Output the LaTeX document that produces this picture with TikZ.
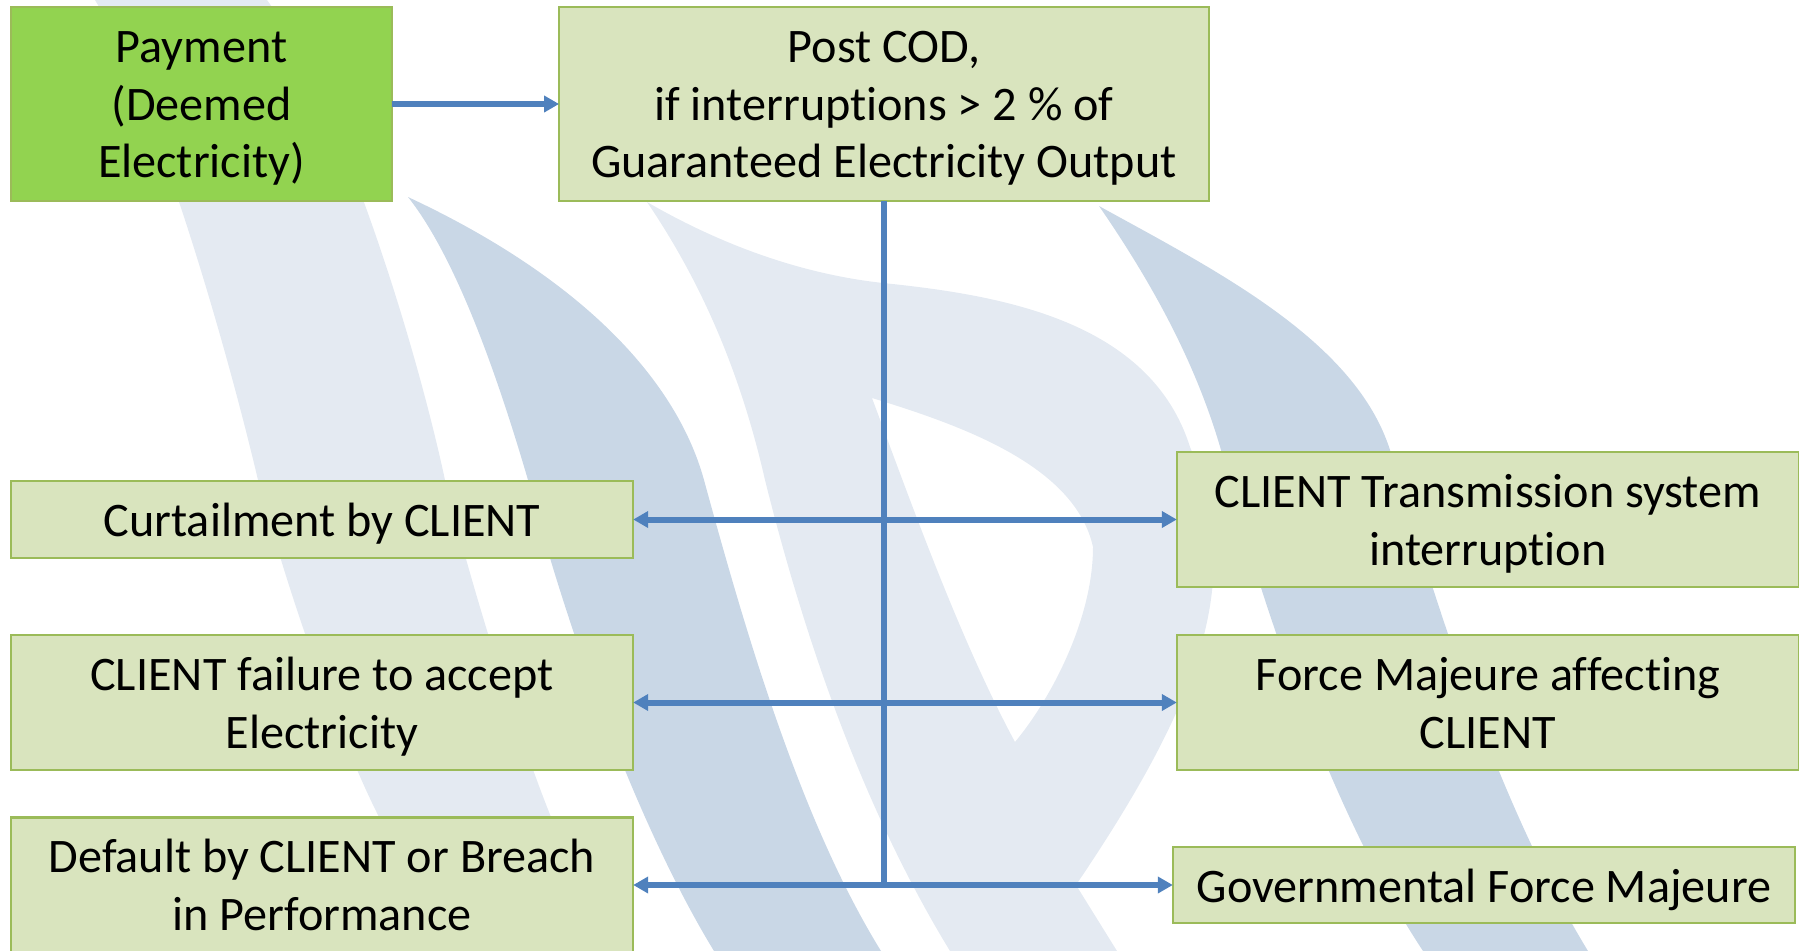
\documentclass[tikz,border=0pt]{standalone}
\usepackage{fontspec}
\setmainfont{Carlito}[Ligatures=CommonOff]
\usepackage{tikz}
\usetikzlibrary{arrows.meta}
\usetikzlibrary{positioning}
\definecolor{wmlight}{HTML}{E4EAF2}
\definecolor{wmdark}{HTML}{C9D7E6}
\definecolor{boxfill}{HTML}{D9E4BE}
\definecolor{boxline}{HTML}{9BBB59}
\definecolor{payfill}{HTML}{92D350}
\definecolor{linkblue}{HTML}{4F81BD}

\begin{document}
\begin{tikzpicture}[x=0.01cm,y=-0.01cm]
\tikzset{
    box/.style={
              rectangle,
                   draw=boxline,
                   fill=boxfill,
                   line width=0.025cm,
                   inner sep=0pt,
                   outer sep=0pt,
                   align=center,
                   font=\fontsize{13.7}{16.45}\selectfont,
                   execute at begin node={\rule{0pt}{#1}},
                   execute at end node={\rule[-3.9pt]{0pt}{3.9pt}}
    },
    trunk/.style={draw=linkblue,line width=0.06cm},
    link/.style={trunk,-{Triangle[length=0.15cm,width=0.16cm]}},
    both/.style={trunk,{Triangle[length=0.15cm,width=0.16cm]}-{Triangle[length=0.15cm,width=0.16cm]}}
}
    \useasboundingbox (0,0) rectangle (1799,951);

    % watermark behind the boxes
    \fill[wmlight] (95,0) .. controls (155,100) and (225,340) .. (258,480)
        .. controls (290,600) and (340,740) .. (379,817)
        .. controls (400,870) and (420,910) .. (445,951)
        -- (625,951) .. controls (600,915) and (570,865) .. (551,817)
        .. controls (520,740) and (475,600) .. (445,480)
        .. controls (415,340) and (340,100) .. (267,0) -- cycle;
    \fill[wmdark] (408,197) .. controls (450,250) and (490,350) .. (528,480)
        .. controls (570,640) and (640,830) .. (714,951)
        -- (881,951) .. controls (800,820) and (745,630) .. (704,480)
        .. controls (675,375) and (575,275) .. (408,197) -- cycle;
    \fill[wmdark] (1099,206) .. controls (1150,280) and (1195,360) .. (1221,450)
        .. controls (1260,600) and (1330,810) .. (1423,951)
        -- (1588,951) .. controls (1490,790) and (1430,580) .. (1390,450)
        .. controls (1355,340) and (1215,270) .. (1099,206) -- cycle;
    \fill[wmlight,even odd rule] (647,202) .. controls (730,250) and (810,275) .. (883,283)
        .. controls (1000,295) and (1150,320) .. (1190,447)
        .. controls (1240,570) and (1215,680) .. (1076,885)
        -- (1117,951) -- (950,951)
        .. controls (870,820) and (810,660) .. (765,480)
        .. controls (740,370) and (700,280) .. (647,202) -- cycle
        (872,398) .. controls (960,425) and (1075,465) .. (1093,547)
        .. controls (1093,620) and (1050,700) .. (1015,742)
        .. controls (960,640) and (910,500) .. (872,398) -- cycle;

    \node (pay)[box=45.9pt,fill=payfill,minimum width=3.81cm,minimum height=1.94cm] at (201.5,104) {Payment\\(Deemed\\Electricity)};
    \node (post)[box=45.9pt,minimum width=6.495cm,minimum height=1.94cm] at (884,104) {Post COD,\\if interruptions > 2 \% of\\Guaranteed Electricity Output};
    \node (curt)[box=13.8pt,minimum width=6.22cm,minimum height=0.77cm] at (322,519.5) {Curtailment by CLIENT};
    \node (fail)[box=29.9pt,minimum width=6.22cm,minimum height=1.35cm] at (322,702.5) {CLIENT failure to accept\\Electricity};
    \node (deflt)[box=29.9pt,minimum width=6.22cm,minimum height=1.35cm] at (322,885) {Default by CLIENT or Breach\\in Performance};
    \node (trans)[box=29.9pt,minimum width=6.22cm,minimum height=1.35cm] at (1488,519.5) {CLIENT Transmission system\\interruption};
    \node (force)[box=29.9pt,minimum width=6.22cm,minimum height=1.35cm] at (1488,702.5) {Force Majeure affecting\\CLIENT};
    \node (gov)[box=13.8pt,minimum width=6.22cm,minimum height=0.76cm] at (1484,885) {Governmental Force Majeure};
    \coordinate (foot) at (884,885);

    \draw[link] (pay) -- (post);
    \draw[trunk] (post) -- (foot);
    \draw[both] (curt) -- (trans);
    \draw[both] (fail) -- (force);
    \draw[both] (deflt) -- (gov);

\end{tikzpicture}
\end{document}
